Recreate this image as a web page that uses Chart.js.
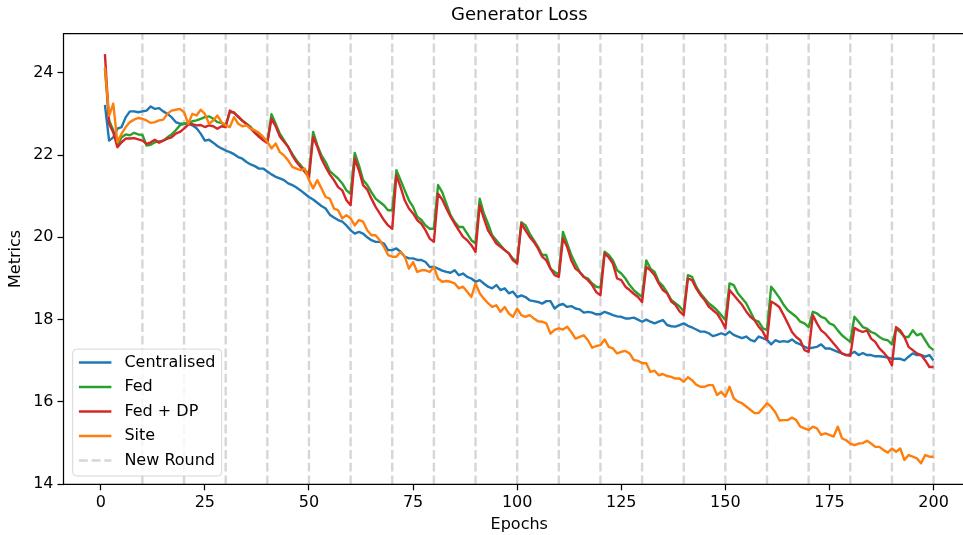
<!DOCTYPE html>
<html>
<head>
<meta charset="utf-8">
<title>Generator Loss</title>
<script src="https://cdn.jsdelivr.net/npm/chart.js@4.4.1/dist/chart.umd.min.js"></script>
<style>
  html, body { margin: 0; padding: 0; background: #fff; overflow: hidden; }
  /* the axes run past the right edge of the picture, so the canvas is wider than the window */
  #wrap { position: absolute; left: 0; top: 0; width: 963px; height: 535px; overflow: hidden; }
  #lossChart { display: block; }
</style>
</head>
<body>
<div id="wrap"><canvas id="lossChart" width="1000" height="535"></canvas></div>
<script>
/* Generator loss per epoch, centralised vs federated vs single site */
const EPOCHS = Array.from({ length: 200 }, (_, i) => i + 1);
const ROUND_STARTS = [10, 20, 30, 40, 50, 60, 70, 80, 90, 100, 110, 120, 130, 140, 150, 160, 170, 180, 190, 200];
const X_TICKS = [0, 25, 50, 75, 100, 125, 150, 175, 200];
const Y_TICKS = [14, 16, 18, 20, 22, 24];
const X_MIN = -8.95, X_MAX = 209.95;
const Y_MIN = 14.0, Y_MAX = 24.95;

const CENTRALISED = [
  23.22, 22.35, 22.43, 22.64, 22.68, 22.92, 23.06, 23.06, 23.04, 23.06,
  23.08, 23.18, 23.12, 23.14, 23.06, 23.00, 22.92, 22.80, 22.76, 22.76,
  22.78, 22.72, 22.65, 22.52, 22.35, 22.37, 22.30, 22.22, 22.16, 22.11,
  22.07, 22.02, 21.95, 21.91, 21.83, 21.77, 21.73, 21.67, 21.67, 21.60,
  21.53, 21.47, 21.43, 21.39, 21.31, 21.27, 21.21, 21.14, 21.06, 20.98,
  20.92, 20.84, 20.76, 20.70, 20.55, 20.48, 20.42, 20.38, 20.29, 20.17,
  20.09, 20.13, 20.09, 20.00, 19.93, 19.89, 19.89, 19.85, 19.69, 19.69,
  19.73, 19.65, 19.53, 19.49, 19.49, 19.45, 19.45, 19.40, 19.28, 19.28,
  19.24, 19.19, 19.16, 19.14, 19.20, 19.08, 19.12, 19.04, 19.00, 18.92,
  18.96, 18.88, 18.80, 18.76, 18.84, 18.72, 18.76, 18.64, 18.68, 18.55,
  18.59, 18.55, 18.47, 18.45, 18.43, 18.39, 18.45, 18.45, 18.27, 18.35,
  18.38, 18.31, 18.33, 18.27, 18.25, 18.17, 18.19, 18.17, 18.13, 18.13,
  18.19, 18.15, 18.11, 18.08, 18.07, 18.03, 18.03, 18.05, 18.00, 17.95,
  18.00, 17.95, 17.91, 17.95, 17.99, 17.87, 17.84, 17.83, 17.87, 17.91,
  17.85, 17.81, 17.76, 17.71, 17.71, 17.67, 17.60, 17.63, 17.67, 17.63,
  17.71, 17.63, 17.59, 17.55, 17.59, 17.51, 17.47, 17.59, 17.55, 17.51,
  17.40, 17.50, 17.46, 17.48, 17.46, 17.52, 17.44, 17.40, 17.34, 17.30,
  17.32, 17.34, 17.40, 17.30, 17.30, 17.26, 17.22, 17.18, 17.14, 17.16,
  17.22, 17.14, 17.19, 17.14, 17.14, 17.11, 17.11, 17.10, 17.08, 17.05,
  17.05, 17.05, 17.01, 17.10, 17.18, 17.14, 17.14, 17.10, 17.14, 17.01
];
const FED = [
  24.10, 22.84, 22.60, 22.23, 22.43, 22.50, 22.48, 22.54, 22.50, 22.49,
  22.23, 22.25, 22.31, 22.33, 22.35, 22.43, 22.50, 22.60, 22.72, 22.76,
  22.78, 22.82, 22.84, 22.88, 22.92, 22.94, 22.88, 22.80, 22.78, 22.72,
  23.04, 23.04, 22.92, 22.84, 22.76, 22.68, 22.56, 22.48, 22.40, 22.32,
  22.99, 22.76, 22.52, 22.36, 22.20, 22.03, 21.87, 21.75, 21.63, 21.55,
  22.56, 22.24, 21.99, 21.83, 21.61, 21.52, 21.43, 21.31, 21.14, 21.06,
  22.05, 21.75, 21.39, 21.27, 21.10, 20.94, 20.86, 20.78, 20.66, 20.66,
  21.63, 21.39, 21.14, 20.90, 20.74, 20.50, 20.42, 20.29, 20.21, 20.21,
  21.27, 21.10, 20.82, 20.54, 20.37, 20.25, 20.25, 20.09, 19.93, 19.85,
  20.94, 20.58, 20.33, 20.05, 19.93, 19.81, 19.69, 19.61, 19.48, 19.40,
  20.37, 20.29, 20.09, 19.93, 19.77, 19.57, 19.57, 19.24, 19.16, 19.10,
  20.13, 19.85, 19.57, 19.36, 19.16, 19.04, 19.00, 18.88, 18.80, 18.78,
  19.65, 19.57, 19.44, 19.20, 19.12, 19.00, 18.84, 18.72, 18.63, 18.55,
  19.44, 19.24, 19.16, 18.92, 18.82, 18.66, 18.48, 18.40, 18.32, 18.20,
  19.08, 19.04, 18.80, 18.64, 18.52, 18.40, 18.32, 18.23, 18.11, 17.99,
  18.88, 18.84, 18.64, 18.52, 18.40, 18.20, 17.99, 17.95, 17.79, 17.75,
  18.80, 18.67, 18.53, 18.36, 18.23, 18.15, 18.07, 17.95, 17.91, 17.82,
  18.19, 18.15, 18.07, 18.03, 17.91, 17.87, 17.74, 17.62, 17.54, 17.46,
  18.07, 17.95, 17.82, 17.78, 17.70, 17.66, 17.58, 17.52, 17.50, 17.40,
  17.78, 17.70, 17.58, 17.58, 17.74, 17.62, 17.66, 17.50, 17.34, 17.26
];
const FED_DP = [
  24.45, 22.76, 22.55, 22.19, 22.31, 22.40, 22.40, 22.41, 22.38, 22.35,
  22.27, 22.31, 22.37, 22.30, 22.35, 22.40, 22.43, 22.52, 22.56, 22.64,
  22.74, 22.75, 22.72, 22.73, 22.68, 22.72, 22.70, 22.64, 22.70, 22.68,
  23.08, 23.02, 22.94, 22.83, 22.75, 22.64, 22.54, 22.44, 22.36, 22.29,
  22.88, 22.70, 22.45, 22.32, 22.20, 21.99, 21.83, 21.71, 21.59, 21.45,
  22.44, 22.20, 21.91, 21.71, 21.53, 21.39, 21.22, 21.14, 20.90, 20.78,
  21.91, 21.63, 21.27, 21.16, 20.94, 20.74, 20.58, 20.42, 20.29, 20.21,
  21.51, 21.22, 20.90, 20.70, 20.58, 20.42, 20.33, 20.17, 19.97, 19.89,
  21.06, 20.92, 20.70, 20.50, 20.33, 20.17, 20.01, 19.93, 19.81, 19.65,
  20.78, 20.46, 20.17, 20.01, 19.85, 19.77, 19.69, 19.61, 19.44, 19.36,
  20.33, 20.17, 20.01, 19.89, 19.73, 19.53, 19.44, 19.24, 19.08, 19.04,
  19.97, 19.77, 19.44, 19.24, 19.16, 19.04, 18.96, 18.84, 18.67, 18.59,
  19.61, 19.51, 19.36, 19.00, 18.96, 18.80, 18.72, 18.63, 18.55, 18.43,
  19.28, 19.20, 19.08, 18.88, 18.72, 18.64, 18.44, 18.36, 18.20, 18.11,
  19.00, 18.96, 18.76, 18.60, 18.48, 18.32, 18.23, 18.15, 17.99, 17.79,
  18.72, 18.60, 18.48, 18.36, 18.20, 18.07, 17.99, 17.83, 17.71, 17.51,
  18.44, 18.38, 18.30, 18.11, 17.91, 17.70, 17.58, 17.50, 17.26, 17.22,
  18.11, 17.91, 17.74, 17.66, 17.54, 17.42, 17.30, 17.18, 17.14, 17.12,
  17.80, 17.74, 17.70, 17.74, 17.54, 17.46, 17.30, 17.20, 17.08, 16.89,
  17.82, 17.74, 17.58, 17.34, 17.26, 17.18, 17.14, 17.01, 16.85, 16.85
];
const SITE = [
  24.13, 22.95, 23.25, 22.31, 22.52, 22.68, 22.80, 22.86, 22.90, 22.88,
  22.84, 22.78, 22.80, 22.84, 22.86, 23.00, 23.08, 23.10, 23.12, 23.04,
  22.76, 23.00, 22.96, 23.10, 23.00, 22.76, 22.84, 22.96, 22.80, 22.72,
  22.68, 22.92, 22.76, 22.70, 22.72, 22.64, 22.60, 22.54, 22.44, 22.32,
  22.16, 22.28, 22.07, 21.99, 21.87, 21.71, 21.67, 21.63, 21.67, 21.39,
  21.19, 21.39, 21.19, 20.98, 20.94, 20.70, 20.66, 20.46, 20.54, 20.46,
  20.29, 20.42, 20.38, 20.17, 20.05, 20.05, 19.93, 19.77, 19.57, 19.53,
  19.53, 19.65, 19.53, 19.24, 19.40, 19.16, 19.20, 19.20, 19.16, 19.28,
  19.00, 18.92, 18.94, 18.92, 18.88, 18.76, 18.80, 18.68, 18.55, 18.88,
  18.64, 18.51, 18.40, 18.31, 18.35, 18.19, 18.31, 18.15, 18.07, 18.27,
  18.11, 18.07, 18.11, 18.03, 17.96, 17.95, 17.91, 17.66, 17.75, 17.79,
  17.76, 17.83, 17.70, 17.54, 17.58, 17.62, 17.50, 17.32, 17.36, 17.38,
  17.52, 17.34, 17.30, 17.18, 17.22, 17.24, 17.18, 17.02, 17.00, 16.94,
  16.94, 16.73, 16.76, 16.65, 16.68, 16.63, 16.61, 16.57, 16.57, 16.49,
  16.60, 16.53, 16.42, 16.37, 16.37, 16.41, 16.41, 16.17, 16.25, 16.13,
  16.37, 16.09, 16.01, 15.97, 15.89, 15.81, 15.73, 15.73, 15.85, 15.97,
  15.88, 15.75, 15.55, 15.56, 15.56, 15.62, 15.56, 15.40, 15.36, 15.32,
  15.40, 15.36, 15.20, 15.24, 15.20, 15.16, 15.40, 15.12, 15.07, 14.99,
  14.95, 14.99, 15.00, 15.06, 14.99, 14.91, 14.91, 14.83, 14.77, 14.87,
  14.79, 14.87, 14.59, 14.71, 14.67, 14.63, 14.51, 14.71, 14.67, 14.67
];

const FONT = '"DejaVu Sans", Verdana, sans-serif';
const ROUND_GREY = '#d6d6d6';

const pts = (vals) => vals.map((v, i) => ({ x: EPOCHS[i], y: v }));
// one dashed vertical line per round, broken by null points
const roundLines = ROUND_STARTS.flatMap((r) => [{ x: r, y: Y_MIN }, { x: r, y: Y_MAX }, { x: r, y: null }]);

const lineDs = (label, vals, color, order) => ({
  label, data: pts(vals), borderColor: color, backgroundColor: color,
  borderWidth: 2.4, pointRadius: 0, tension: 0, borderJoinStyle: 'round', order,
});

// matplotlib-like spines (the right one falls outside the picture) + legend in the lower left corner
const frameAndLegend = {
  id: 'frameAndLegend',
  afterDatasetsDraw(chart) {
    const { ctx, chartArea: a } = chart;
    ctx.save();
    ctx.strokeStyle = '#000';
    ctx.lineWidth = 1.25;
    ctx.beginPath();
    ctx.moveTo(a.right, a.top);
    ctx.lineTo(a.left, a.top);
    ctx.lineTo(a.left, a.bottom);
    ctx.lineTo(a.right, a.bottom);
    ctx.stroke();

    const items = chart.data.datasets.map((ds) => ({ label: ds.label, color: ds.borderColor, dash: ds.borderDash || [] }));
    ctx.font = '16px ' + FONT;
    const textW = Math.max(...items.map((it) => ctx.measureText(it.label).width));
    const pad = 6.2, handle = 32.5, gap = 13, rowH = 24.5;
    const w = pad + handle + gap + textW + pad;
    const h = 2 * pad + items.length * 16.5 + (items.length - 1) * 8;
    const x0 = a.left + 9.2, y0 = a.bottom - 8.3 - h;
    const r = 4;
    ctx.beginPath();
    ctx.moveTo(x0 + r, y0);
    ctx.arcTo(x0 + w, y0, x0 + w, y0 + h, r);
    ctx.arcTo(x0 + w, y0 + h, x0, y0 + h, r);
    ctx.arcTo(x0, y0 + h, x0, y0, r);
    ctx.arcTo(x0, y0, x0 + w, y0, r);
    ctx.closePath();
    ctx.fillStyle = 'rgba(255,255,255,0.8)';
    ctx.fill();
    ctx.strokeStyle = 'rgba(204,204,204,0.8)';
    ctx.lineWidth = 1;
    ctx.stroke();

    items.forEach((it, i) => {
      const cy = y0 + 13.4 + i * rowH;
      ctx.beginPath();
      ctx.setLineDash(it.dash);
      ctx.strokeStyle = it.color;
      ctx.lineWidth = 2.4;
      ctx.moveTo(x0 + pad, cy);
      ctx.lineTo(x0 + pad + handle, cy);
      ctx.stroke();
      ctx.setLineDash([]);
      ctx.fillStyle = '#000';
      ctx.textBaseline = 'middle';
      ctx.textAlign = 'left';
      ctx.fillText(it.label, x0 + pad + handle + gap, cy);
    });
    ctx.restore();
  },
};

const tickGrid = { drawOnChartArea: false, drawTicks: true, tickLength: 6, tickColor: '#000', tickWidth: 1.25 };

new Chart(document.getElementById('lossChart'), {
  type: 'line',
  data: {
    datasets: [
      lineDs('Centralised', CENTRALISED, '#1f77b4', 4),
      lineDs('Fed', FED, '#2ca02c', 3),
      lineDs('Fed + DP', FED_DP, '#d62728', 2),
      lineDs('Site', SITE, '#ff7f0e', 1),
      {
        label: 'New Round', data: roundLines, borderColor: ROUND_GREY, backgroundColor: ROUND_GREY,
        borderWidth: 2.4, borderDash: [8.9, 3.8], pointRadius: 0, spanGaps: false, order: 5,
      },
    ],
  },
  options: {
    responsive: false,
    animation: false,
    devicePixelRatio: 1,
    events: [],
    layout: { padding: { left: 0, right: 25, top: 0, bottom: 0 } },
    plugins: {
      legend: { display: false },
      tooltip: { enabled: false },
      title: {
        display: true, text: 'Generator Loss', color: '#000', fullSize: false,
        font: { family: FONT, size: 18, weight: 'normal' }, padding: { top: 5, bottom: 7 },
      },
    },
    scales: {
      x: {
        type: 'linear', min: X_MIN, max: X_MAX,
        afterBuildTicks: (s) => { s.ticks = X_TICKS.map((v) => ({ value: v })); },
        afterFit: (s) => { s.height = 50.7; },
        grid: tickGrid,
        border: { display: false },
        ticks: { color: '#000', font: { family: FONT, size: 16 }, padding: 3, maxRotation: 0 },
        title: { display: true, text: 'Epochs', color: '#000', font: { family: FONT, size: 16 }, padding: { top: 0, bottom: 1 } },
      },
      y: {
        type: 'linear', min: Y_MIN, max: Y_MAX,
        afterBuildTicks: (s) => { s.ticks = Y_TICKS.map((v) => ({ value: v })); },
        afterFit: (s) => { s.width = 63.5; },
        grid: tickGrid,
        border: { display: false },
        ticks: { color: '#000', font: { family: FONT, size: 16 }, padding: 4 },
        title: { display: true, text: 'Metrics', color: '#000', font: { family: FONT, size: 16 }, padding: { top: 6, bottom: 0 } },
      },
    },
  },
  plugins: [frameAndLegend],
});
</script>
</body>
</html>
